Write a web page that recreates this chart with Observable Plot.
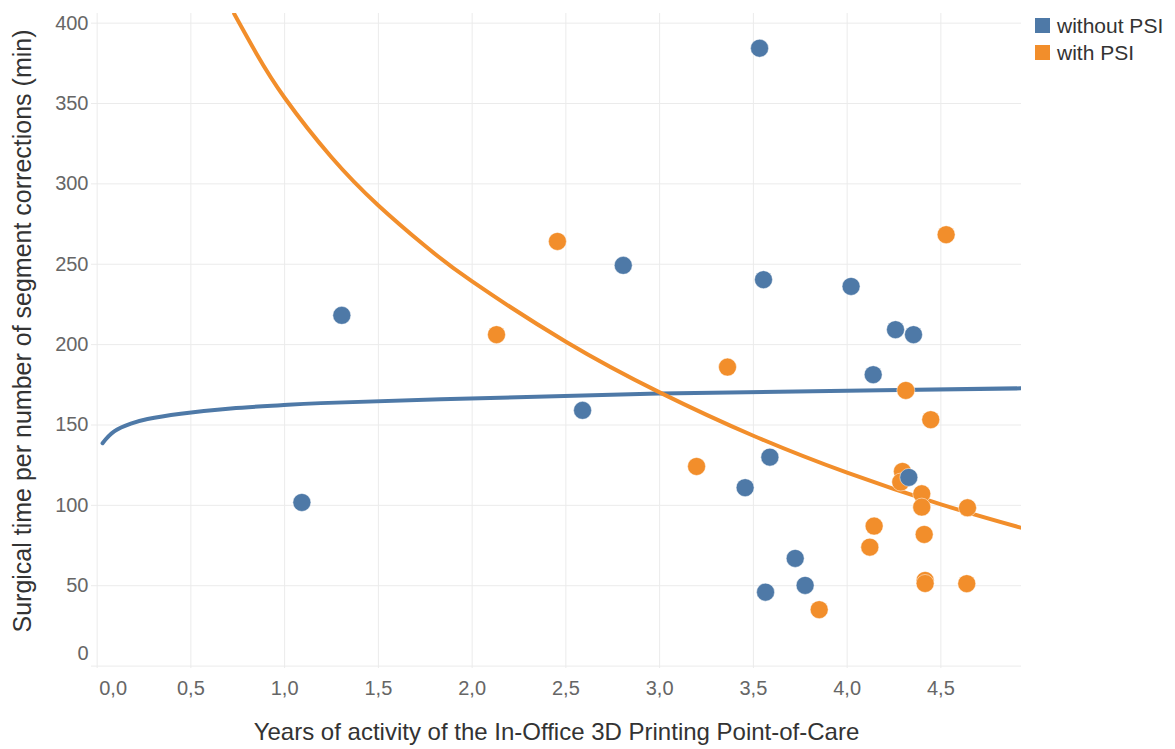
<!DOCTYPE html>
<html>
<head>
<meta charset="utf-8">
<script src="https://cdn.jsdelivr.net/npm/d3@7"></script>
<script src="https://cdn.jsdelivr.net/npm/@observablehq/plot@0.6"></script>
<style>
  body { margin: 0; background: #fff; font-family: "Liberation Sans", Arial, sans-serif; }
  #wrap { position: relative; width: 1175px; height: 749px; }
  #legend { position: absolute; left: 1035px; top: 12px; font-size: 21px; color: #333; }
  .item { display: flex; align-items: center; height: 27px; }
  .sw { width: 15px; height: 15px; margin-right: 7px; }
</style>
</head>
<body>
<div id="wrap"><div id="chart"></div><div id="legend"></div></div>
<script>
// ---- data ----
const seriesNames = ["without PSI", "with PSI"];
const seriesColors = ["#4e79a7", "#f28e2b"];

const withoutX = [3.533, 1.305, 1.092, 2.806, 2.589, 3.554, 4.021, 4.258, 4.354, 4.139, 3.588, 3.456, 4.329, 3.723, 3.776, 3.565];
const withoutY = [384.4, 218.2, 101.8, 249.3, 159.1, 240.4, 236.2, 209.3, 206.2, 181.3, 130.0, 111.0, 117.4, 67.0, 50.2, 46.0];

const withX = [2.455, 2.130, 3.362, 3.197, 4.528, 4.313, 4.446, 4.295, 4.286, 4.398, 4.398, 4.642, 4.144, 4.121, 4.411, 4.416, 4.416, 4.638, 3.851];
const withY = [264.2, 206.2, 186.0, 124.2, 268.4, 171.5, 153.3, 121.1, 114.5, 107.2, 98.9, 98.5, 87.1, 74.0, 81.9, 53.3, 51.4, 51.3, 35.1];

// trend lines
const trendWithoutX = [0.029, 0.091, 0.180, 0.269, 0.446, 0.713, 0.980, 1.193, 1.833, 3.006, 4.180, 4.926];
const trendWithoutY = [138.7, 146.0, 150.8, 153.7, 157.0, 160.3, 162.3, 163.6, 166.0, 169.6, 171.6, 172.8];
const trendWithX = [0.731, 0.85, 1.0, 1.25, 1.5, 1.75, 2.0, 2.5, 3.0, 3.5, 4.0, 4.5, 4.926];
const trendWithY = [405.8, 381.0, 353.6, 316.6, 286.6, 261.3, 239.3, 201.8, 170.3, 143.3, 120.3, 100.6, 86.1];

const xTicks = [0, 0.5, 1, 1.5, 2, 2.5, 3, 3.5, 4, 4.5];
const xTickLabels = ["0,0", "0,5", "1,0", "1,5", "2,0", "2,5", "3,0", "3,5", "4,0", "4,5"];
const yTicks = [0, 50, 100, 150, 200, 250, 300, 350, 400];
const yTickLabels = ["0", "50", "100", "150", "200", "250", "300", "350", "400"];

const xTitle = "Years of activity of the In-Office 3D Printing Point-of-Care";
const yTitle = "Surgical time per number of segment corrections (min)";

// ---- build tables ----
const points = [
  ...withoutX.map((x, i) => ({x, y: withoutY[i], s: seriesNames[0]})),
  ...withX.map((x, i) => ({x, y: withY[i], s: seriesNames[1]}))
];
const trends = [
  ...trendWithoutX.map((x, i) => ({x, y: trendWithoutY[i], s: seriesNames[0]})),
  ...trendWithX.map((x, i) => ({x, y: trendWithY[i], s: seriesNames[1]}))
];

const font = "'Liberation Sans', Arial, sans-serif";
const tickStyle = {tickSize: 0, fontSize: 20, fill: "#666", label: null};
const xFmt = d => xTickLabels[xTicks.indexOf(d)];
const yFmt = d => yTickLabels[yTicks.indexOf(d)];

const chart = Plot.plot({
  width: 1175,
  height: 749,
  marginLeft: 91,
  marginRight: 154,
  marginTop: 13,
  marginBottom: 81,
  x: {domain: [-0.03, 4.93]},
  y: {domain: [-1.5, 406]},
  color: {domain: seriesNames, range: seriesColors},
  style: {fontFamily: font, background: "white", overflow: "visible"},
  marks: [
    Plot.gridX(xTicks, {stroke: "#ebebeb", strokeOpacity: 1, strokeWidth: 1}),
    Plot.gridY(yTicks, {stroke: "#ebebeb", strokeOpacity: 1, strokeWidth: 1}),
    Plot.axisX(xTicks.slice(1), {...tickStyle, tickPadding: 12, tickFormat: xFmt}),
    Plot.axisX(xTicks.slice(0, 1), {...tickStyle, tickPadding: 12, tickFormat: xFmt, dx: 16}),
    Plot.axisY(yTicks.slice(1), {...tickStyle, tickPadding: 3, tickFormat: yFmt}),
    Plot.axisY(yTicks.slice(0, 1), {...tickStyle, tickPadding: 3, tickFormat: yFmt, dy: -12}),
    Plot.line(trends, {x: "x", y: "y", z: "s", stroke: "s", strokeWidth: 4, curve: "natural", clip: true}),
    Plot.dot(points.filter(d => d.s === seriesNames[1]), {x: "x", y: "y", r: 9, fill: "s", stroke: "white", strokeWidth: 0.7, strokeOpacity: 0.7}),
    Plot.dot(points.filter(d => d.s === seriesNames[0]), {x: "x", y: "y", r: 9, fill: "s", stroke: "white", strokeWidth: 0.7, strokeOpacity: 0.7}),
    Plot.text([xTitle], {text: d => d, frameAnchor: "bottom", textAnchor: "middle", lineAnchor: "middle", dy: 64, fontSize: 24, fill: "#333"}),
    Plot.text([yTitle], {text: d => d, frameAnchor: "left", textAnchor: "middle", lineAnchor: "middle", rotate: -90, dx: -69, dy: -10, fontSize: 25, fill: "#333"})
  ]
});
document.getElementById("chart").appendChild(chart);

// legend
const legend = document.getElementById("legend");
seriesNames.forEach((name, i) => {
  const row = document.createElement("div");
  row.className = "item";
  const sw = document.createElement("span");
  sw.className = "sw";
  sw.style.background = seriesColors[i];
  const label = document.createElement("span");
  label.textContent = name;
  row.appendChild(sw);
  row.appendChild(label);
  legend.appendChild(row);
});
</script>
</body>
</html>
